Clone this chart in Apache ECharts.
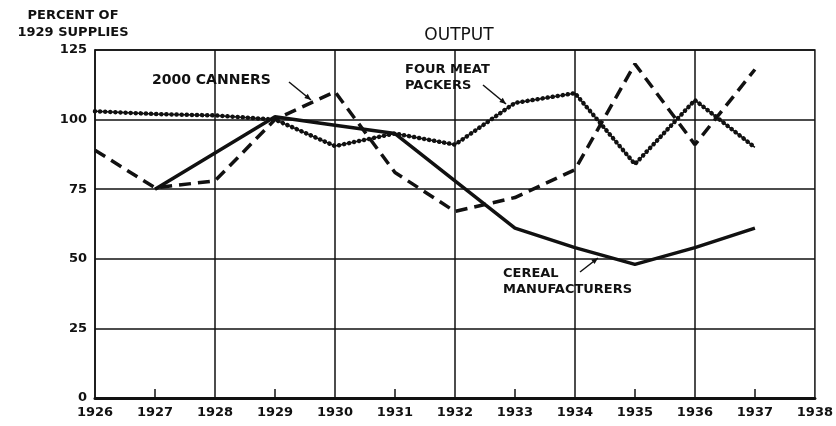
<!DOCTYPE html>
<html>
<head>
<meta charset="utf-8">
<script src="https://cdn.jsdelivr.net/npm/echarts@6/dist/echarts.min.js"></script>
<style>
  html, body { margin: 0; padding: 0; background: #fff; }
  #main { width: 836px; height: 426px; }
</style>
</head>
<body>
<div id="main"></div>
<script>
var years = ['1926', '1927', '1928', '1929', '1930', '1931', '1932', '1933', '1934', '1935', '1936', '1937', '1938'];
var yTicks = [0, 25, 50, 75, 100, 125];
var cereal = [null, 75, 88, 101, 98, 95, 78, 61, 54, 48, 54, 61];
var canners = [89, 75.5, 78, 100, 110, 81, 67, 72, 82, 120, 91, 118];
var meatPackers = [103, 102, 101.5, 100, 90.5, 95, 91, 106, 109.5, 84, 107, 90];

var chartDom = document.getElementById('main');
var myChart = echarts.init(chartDom);
var option;

var font = 'DejaVu Sans';
var ink = '#111';

// small helper for the hand drawn arrows of the labels
function arrow(x1, y1, x2, y2) {
    var a = Math.atan2(y2 - y1, x2 - x1);
    var s = 7;
    return [
        {type: 'line', shape: {x1: x1, y1: y1, x2: x2, y2: y2}, style: {stroke: ink, lineWidth: 1.5}},
        {type: 'polygon', shape: {points: [
            [x2, y2],
            [x2 - s * Math.cos(a - 0.4), y2 - s * Math.sin(a - 0.4)],
            [x2 - s * Math.cos(a + 0.4), y2 - s * Math.sin(a + 0.4)]
        ]}, style: {fill: ink}}
    ];
}

function label(x, y, text, size, align) {
    return {type: 'text', style: {
        x: x, y: y, text: text, fill: ink, align: align || 'left', verticalAlign: 'top',
        font: 'bold ' + size + 'px ' + font, lineHeight: size + 3
    }};
}

var graphics = [
    label(73, 8, 'PERCENT OF', 13, 'center'),
    label(73, 25, '1929 SUPPLIES', 13, 'center'),
    label(152, 72, '2000 CANNERS', 14),
    label(405, 62, 'FOUR MEAT\nPACKERS', 13),
    label(503, 266, 'CEREAL\nMANUFACTURERS', 13)
].concat(arrow(289, 82, 311, 100), arrow(483, 85, 506, 104), arrow(580, 272, 598, 258));

option = {
    backgroundColor: '#fff',
    animation: false,
    title: {
        text: 'OUTPUT',
        left: 454,
        top: 22,
        textAlign: 'center',
        textStyle: {fontFamily: font, fontSize: 17, fontWeight: 'normal', color: ink}
    },
    grid: {
        left: 95, right: 21, top: 50, bottom: 28,
        show: true, borderColor: ink, borderWidth: 1.5
    },
    xAxis: {
        type: 'category',
        data: years,
        boundaryGap: false,
        axisLine: {lineStyle: {color: ink, width: 3}},
        axisTick: {
            inside: true, length: 9,
            interval: function (i) { return i % 2 === 1; },
            lineStyle: {color: ink, width: 1.5}
        },
        axisLabel: {
            interval: 0, margin: 8,
            fontFamily: font, fontWeight: 'bold', fontSize: 13, color: ink
        },
        splitLine: {
            show: true,
            interval: function (i) { return i % 2 === 0 && i > 0 && i < years.length - 1; },
            lineStyle: {color: ink, width: 1.5}
        }
    },
    yAxis: {
        type: 'value',
        min: yTicks[0], max: yTicks[yTicks.length - 1], interval: 25,
        axisLine: {show: true, lineStyle: {color: ink, width: 1.5}},
        axisTick: {show: false},
        axisLabel: {fontFamily: font, fontWeight: 'bold', fontSize: 13, color: ink, margin: 8},
        splitLine: {lineStyle: {color: ink, width: 1.5}}
    },
    graphic: graphics,
    series: [
        {
            name: 'Cereal manufacturers', type: 'line', data: cereal,
            symbol: 'none', lineStyle: {color: ink, width: 3.5}
        },
        {
            name: '2000 canners', type: 'line', data: canners,
            symbol: 'none', lineStyle: {color: ink, width: 3.5, type: [12, 7]}
        },
        {
            name: 'Four meat packers', type: 'line', data: meatPackers,
            symbol: 'none', lineStyle: {color: ink, width: 1.5}
        },
        {
            name: 'Four meat packers dots', type: 'line', data: meatPackers,
            symbol: 'none', lineStyle: {color: ink, width: 4.5, type: [0.1, 5], cap: 'round'}
        }
    ]
};

option && myChart.setOption(option);
</script>
</body>
</html>
